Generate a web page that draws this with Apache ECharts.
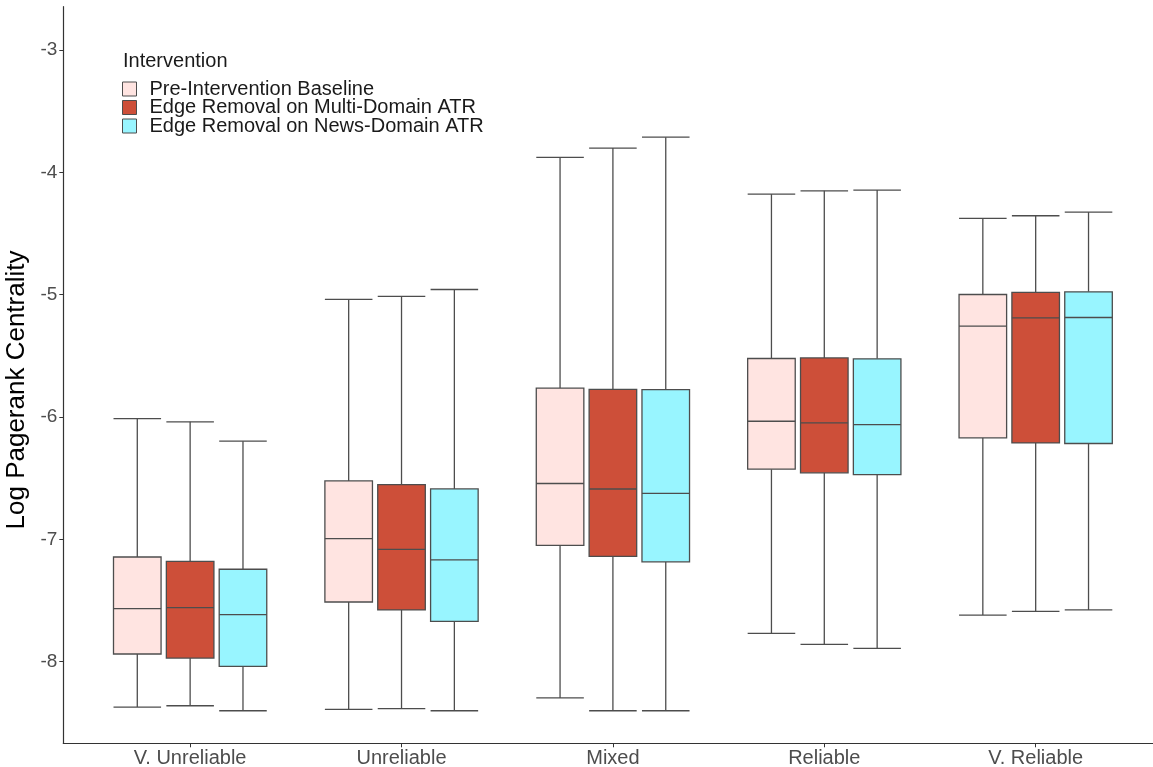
<!DOCTYPE html>
<html>
<head>
<meta charset="utf-8">
<title>Log Pagerank Centrality</title>
<script src="https://cdn.jsdelivr.net/npm/echarts@6/dist/echarts.min.js"></script>
<style>
  html, body { margin: 0; padding: 0; background: #fff; }
  #chart { width: 1153px; height: 767px; }
</style>
</head>
<body>
<div id="chart"></div>
<script>
// categories on the x axis
const categories = ['V. Unreliable', 'Unreliable', 'Mixed', 'Reliable', 'V. Reliable'];
const yTicks = [-8, -7, -6, -5, -4, -3];

// each row: [lower whisker, Q1, median, Q3, upper whisker]
const baseline = [
  [-8.372, -7.938, -7.567, -7.145, -6.014],
  [-8.391, -7.513, -6.995, -6.523, -5.039],
  [-8.297, -7.050, -6.544, -5.765, -3.878],
  [-7.769, -6.427, -6.035, -5.522, -4.178],
  [-7.620, -6.171, -5.258, -4.999, -4.377]
];
const multiDomain = [
  [-8.361, -7.971, -7.559, -7.180, -6.040],
  [-8.385, -7.578, -7.082, -6.553, -5.015],
  [-8.402, -7.139, -6.589, -5.775, -3.802],
  [-7.859, -6.457, -6.049, -5.517, -4.151],
  [-7.589, -6.212, -5.190, -4.982, -4.355]
];
const newsDomain = [
  [-8.402, -8.039, -7.616, -7.245, -6.198],
  [-8.402, -7.671, -7.169, -6.588, -4.958],
  [-8.402, -7.184, -6.624, -5.777, -3.713],
  [-7.892, -6.471, -6.062, -5.525, -4.145],
  [-7.578, -6.217, -5.187, -4.977, -4.325]
];

const groups = [
  { name: 'Pre-Intervention Baseline', data: baseline, color: '#FFE4E1', offset: -0.25 },
  { name: 'Edge Removal on Multi-Domain ATR', data: multiDomain, color: '#CD4F39', offset: 0 },
  { name: 'Edge Removal on News-Domain ATR', data: newsDomain, color: '#98F5FF', offset: 0.25 }
];

const BOX_W = 0.225;
const LINE = '#4d4d4d';
const FONT = '"Liberation Sans", Arial, Helvetica, sans-serif';

const chart = echarts.init(document.getElementById('chart'));

function renderBox(params, api) {
  const x = api.value(0);
  const lo = api.coord([x, api.value(1)]);
  const q1 = api.coord([x, api.value(2)]);
  const md = api.coord([x, api.value(3)]);
  const q3 = api.coord([x, api.value(4)]);
  const hi = api.coord([x, api.value(5)]);
  const half = api.size([BOX_W, 0])[0] / 2;
  const cx = lo[0];
  const fill = groups[params.seriesIndex].color;
  const ls = { stroke: LINE, lineWidth: 1.3 };
  return {
    type: 'group',
    children: [
      { type: 'line', shape: { x1: cx, y1: hi[1], x2: cx, y2: q3[1] }, style: ls },
      { type: 'line', shape: { x1: cx, y1: q1[1], x2: cx, y2: lo[1] }, style: ls },
      { type: 'line', shape: { x1: cx - half, y1: hi[1], x2: cx + half, y2: hi[1] }, style: ls },
      { type: 'line', shape: { x1: cx - half, y1: lo[1], x2: cx + half, y2: lo[1] }, style: ls },
      {
        type: 'rect',
        shape: { x: cx - half, y: q3[1], width: half * 2, height: q1[1] - q3[1] },
        style: { fill: fill, stroke: LINE, lineWidth: 1.3 }
      },
      { type: 'line', shape: { x1: cx - half, y1: md[1], x2: cx + half, y2: md[1] }, style: ls }
    ]
  };
}

const option = {
  backgroundColor: '#ffffff',
  animation: false,
  textStyle: { fontFamily: FONT },
  title: {
    text: 'Intervention',
    left: 118,
    top: 46,
    textStyle: { fontFamily: FONT, fontSize: 20, fontWeight: 'normal', color: '#1a1a1a' }
  },
  legend: {
    orient: 'vertical',
    left: 117,
    top: 74,
    itemWidth: 14,
    itemHeight: 14,
    itemGap: -1.5,
    icon: 'rect',
    textStyle: { fontFamily: FONT, fontSize: 20, color: '#1a1a1a', padding: [0, 0, 0, 8] },
    data: groups.map(g => ({
      name: g.name,
      itemStyle: { color: g.color, borderColor: LINE, borderWidth: 1 }
    }))
  },
  grid: {
    left: 63.3,
    right: 0,
    top: 6.7,
    bottom: 23.7,
    containLabel: false,
    outerBoundsMode: 'none'
  },
  xAxis: {
    type: 'value',
    min: 0.4,
    max: 5.555,
    splitLine: { show: false },
    axisLine: { show: true, lineStyle: { color: '#333333', width: 1.2 } },
    axisTick: { show: true, length: 4, lineStyle: { color: '#333333' }, customValues: [1, 2, 3, 4, 5] },
    axisLabel: {
      customValues: [1, 2, 3, 4, 5],
      formatter: v => categories[Math.round(v) - 1] || '',
      fontFamily: FONT,
      fontSize: 20,
      color: '#4d4d4d',
      margin: 5
    }
  },
  yAxis: {
    type: 'value',
    min: -8.668,
    max: -2.646,
    name: 'Log Pagerank Centrality',
    nameLocation: 'middle',
    nameGap: 21,
    nameTextStyle: { fontFamily: FONT, fontSize: 26, color: '#000000', padding: [0, 30, 0, 0] },
    splitLine: { show: false },
    axisLine: { show: true, lineStyle: { color: '#333333', width: 1.2 } },
    axisTick: { show: true, length: 4, lineStyle: { color: '#333333' }, customValues: yTicks },
    axisLabel: {
      customValues: yTicks,
      fontFamily: FONT,
      fontSize: 19,
      color: '#4d4d4d',
      margin: 6
    }
  },
  series: groups.map(g => ({
    name: g.name,
    type: 'custom',
    renderItem: renderBox,
    itemStyle: { color: g.color, borderColor: LINE },
    encode: { x: 0, y: [1, 2, 3, 4, 5] },
    data: g.data.map((row, i) => [i + 1 + g.offset].concat(row))
  }))
};

chart.setOption(option);
window.addEventListener('resize', () => chart.resize());
</script>
</body>
</html>
